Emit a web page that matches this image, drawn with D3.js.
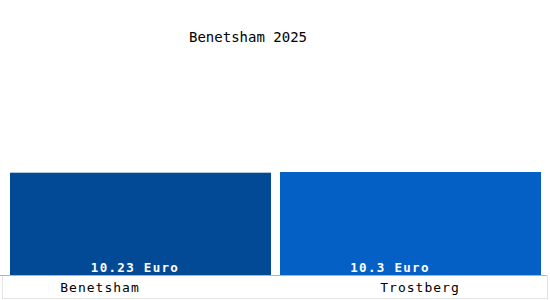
<!DOCTYPE html>
<meta charset="utf-8">
<style>
body { margin: 0; background: #fff; }
text { font-family: "DejaVu Sans Mono", monospace; }
</style>
<body>
<script src="https://d3js.org/d3.v7.min.js"></script>
<script>

// data
var title = "Benetsham 2025";
var places = ["Benetsham", "Trostberg"];
var values = [10.23, 10.3];
var valueLabels = ["10.23 Euro", "10.3 Euro"];
var colors = ["#034a96", "#0560c6"];

var width = 550, height = 300;
var base = 275;

var svg = d3.select("body").append("svg")
    .attr("width", width)
    .attr("height", height);

// scales
var x = d3.scaleBand()
    .domain(places)
    .range([10, 541])
    .paddingInner(9 / 270);

var y = d3.scaleLinear()
    .domain([0, d3.max(values) * 2])
    .range([base, 69]);

// positions of the texts under and in the bars
var xName = d3.scalePoint().domain(places).range([100, 420]);
var xVal = d3.scalePoint().domain(places).range([135, 390]);

// frame round the label strip
svg.append("rect")
    .attr("x", 2.5).attr("y", base + 0.5)
    .attr("width", 545).attr("height", 23)
    .attr("fill", "none")
    .attr("stroke", "#e4e4e4");

// bars
svg.selectAll(".bar")
    .data(places)
  .enter().append("rect")
    .attr("class", "bar")
    .attr("x", function(d) { return x(d); })
    .attr("width", x.bandwidth())
    .attr("y", function(d, i) { return y(values[i]); })
    .attr("height", function(d, i) { return base - y(values[i]); })
    .attr("fill", function(d, i) { return colors[i]; });

// baseline
svg.append("line")
    .attr("x1", 0).attr("x2", 547)
    .attr("y1", base + 0.5).attr("y2", base + 0.5)
    .attr("stroke", "#b4b4b4");

// value labels
svg.selectAll(".val")
    .data(places)
  .enter().append("text")
    .attr("class", "val")
    .attr("x", function(d) { return xVal(d); })
    .attr("y", 272)
    .attr("text-anchor", "middle")
    .attr("fill", "#fff")
    .style("font-size", "12.5px")
    .style("font-weight", "600")
    .style("letter-spacing", "1.3px")
    .text(function(d, i) { return valueLabels[i]; });

// category labels
svg.selectAll(".name")
    .data(places)
  .enter().append("text")
    .attr("class", "name")
    .attr("x", function(d) { return xName(d); })
    .attr("y", 292)
    .attr("text-anchor", "middle")
    .attr("fill", "#000")
    .style("font-size", "13px")
    .style("letter-spacing", "1px")
    .text(function(d) { return d; });

// title
svg.append("text")
    .attr("x", 248)
    .attr("y", 42)
    .attr("text-anchor", "middle")
    .attr("fill", "#000")
    .style("font-size", "14px")
    .text(title);

</script>
</body>
